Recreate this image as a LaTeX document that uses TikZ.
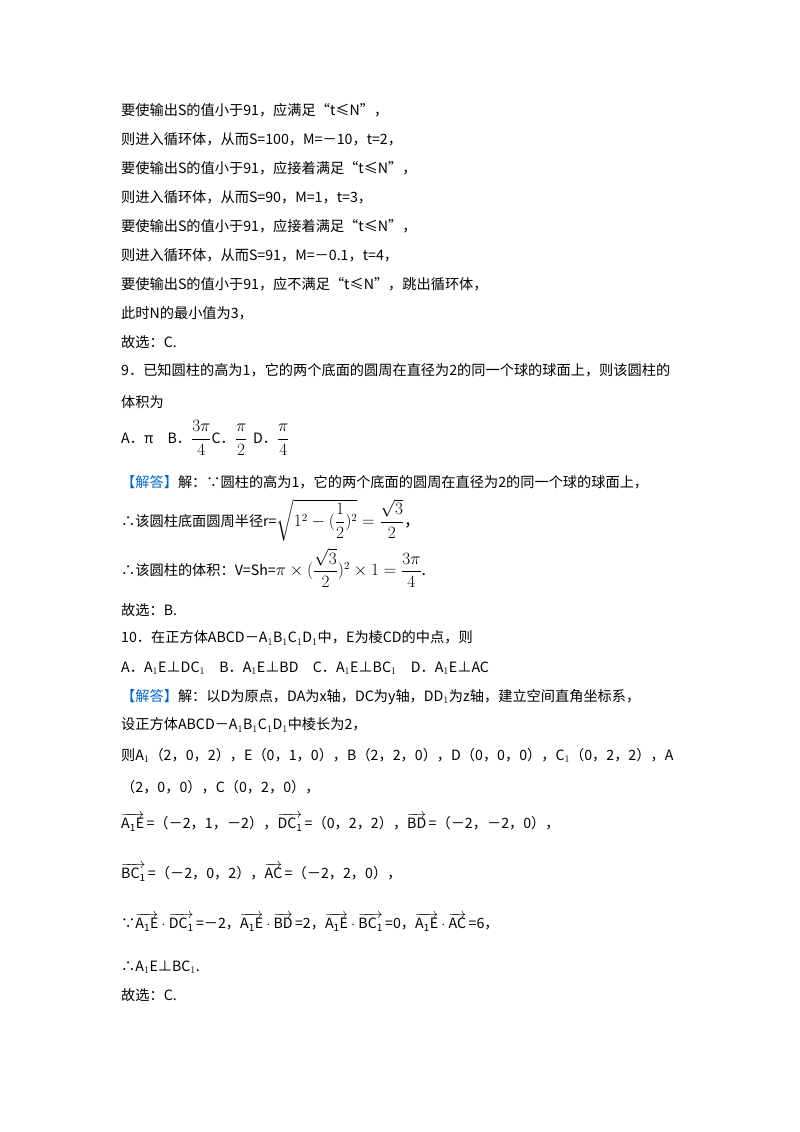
\documentclass[tikz,border=0pt]{standalone}
\usepackage{amsmath}
\usepackage{fontspec}
\setmainfont{Noto Sans CJK SC}
\definecolor{ansblue}{RGB}{0,102,204}
\newcommand{\vv}[1]{\overrightarrow{\mathrm{#1}}}
\begin{document}
\begin{tikzpicture}[x=1pt,y=-1pt,
  ln/.style={anchor=west,inner sep=0pt,font=\fontsize{14.2}{16}\selectfont},
  mth/.style={ln,font=\fontsize{16}{18}\selectfont}]
\useasboundingbox[fill=white] (0,0) rectangle (800,1132);
\node[ln] (l1) at (121,110) {要使输出S的值小于91，应满足“t≤N”，};
\node[ln] (l2) at (121,139) {则进入循环体，从而S=100，M=－10，t=2，};
\node[ln] (l3) at (121,168) {要使输出S的值小于91，应接着满足“t≤N”，};
\node[ln] (l4) at (121,197) {则进入循环体，从而S=90，M=1，t=3，};
\node[ln] (l5) at (121,226) {要使输出S的值小于91，应接着满足“t≤N”，};
\node[ln] (l6) at (121,255) {则进入循环体，从而S=91，M=－0.1，t=4，};
\node[ln] (l7) at (121,284) {要使输出S的值小于91，应不满足“t≤N”，跳出循环体，};
\node[ln] (l8) at (121,313) {此时N的最小值为3，};
\node[ln] (l9) at (121,342) {故选：C.};
\node[ln] (l10) at (121,370) {9．已知圆柱的高为1，它的两个底面的圆周在直径为2的同一个球的球面上，则该圆柱的};
\node[ln] (l11) at (121,402) {体积为};
\node[ln] (l12) at (121,438) {A．π\quad B．\fontsize{17}{19}\selectfont$\dfrac{3\pi}{4}$\fontsize{14.2}{16}\selectfont C．\fontsize{17}{19}\selectfont$\dfrac{\pi}{2}$\fontsize{14.2}{16}\selectfont\ \,D．\fontsize{17}{19}\selectfont$\dfrac{\pi}{4}$};
\node[ln] (l13) at (121,482) {\textcolor{ansblue}{【解答】}解：∵圆柱的高为1，它的两个底面的圆周在直径为2的同一个球的球面上，};
\node[ln] (l14) at (121,520) {∴该圆柱底面圆周半径r=\fontsize{16}{18}\selectfont$\sqrt{1^2-(\dfrac{1}{2})^2}=\dfrac{\sqrt{3}}{2}$，};
\node[ln] (l15) at (121,568) {∴该圆柱的体积：V=Sh=\fontsize{16}{18}\selectfont$\pi\times(\dfrac{\sqrt{3}}{2})^2\times1=\dfrac{3\pi}{4}$.};
\node[ln] (l16) at (121,610) {故选：B.};
\node[ln] (l17) at (121,638) {10．在正方体ABCD－A$_1$B$_1$C$_1$D$_1$中，E为棱CD的中点，则};
\node[ln] (l18) at (121,668) {A．A$_1$E⊥DC$_1$\quad B．A$_1$E⊥BD\quad C．A$_1$E⊥BC$_1$\quad D．A$_1$E⊥AC};
\node[ln] (l19) at (121,697) {\textcolor{ansblue}{【解答】}解：以D为原点，DA为x轴，DC为y轴，DD$_1$为z轴，建立空间直角坐标系，};
\node[ln] (l20) at (121,725) {设正方体ABCD－A$_1$B$_1$C$_1$D$_1$中棱长为2，};
\node[ln] (l21) at (121,755) {则A$_1$（2，0，2），E（0，1，0），B（2，2，0），D（0，0，0），C$_1$（0，2，2），A};
\node[ln] (l22) at (121,787) {（2，0，0），C（0，2，0），};
\node[ln] (l23) at (121,822) {$\vv{A_1E}$\,=（－2，1，－2），$\vv{DC_1}$\,=（0，2，2），$\vv{BD}$\,=（－2，－2，0），};
\node[ln] (l24) at (121,872) {$\vv{BC_1}$\,=（－2，0，2），$\vv{AC}$\,=（－2，2，0），};
\node[ln] (l25) at (121,922) {∵$\vv{A_1E}\cdot\vv{DC_1}$\,=－2，$\vv{A_1E}\cdot\vv{BD}$\,=2，$\vv{A_1E}\cdot\vv{BC_1}$\,=0，$\vv{A_1E}\cdot\vv{AC}$\,=6，};
\node[ln] (l26) at (121,967) {∴A$_1$E⊥BC$_1$.};
\node[ln] (l27) at (121,995) {故选：C.};
\end{tikzpicture}
\end{document}
